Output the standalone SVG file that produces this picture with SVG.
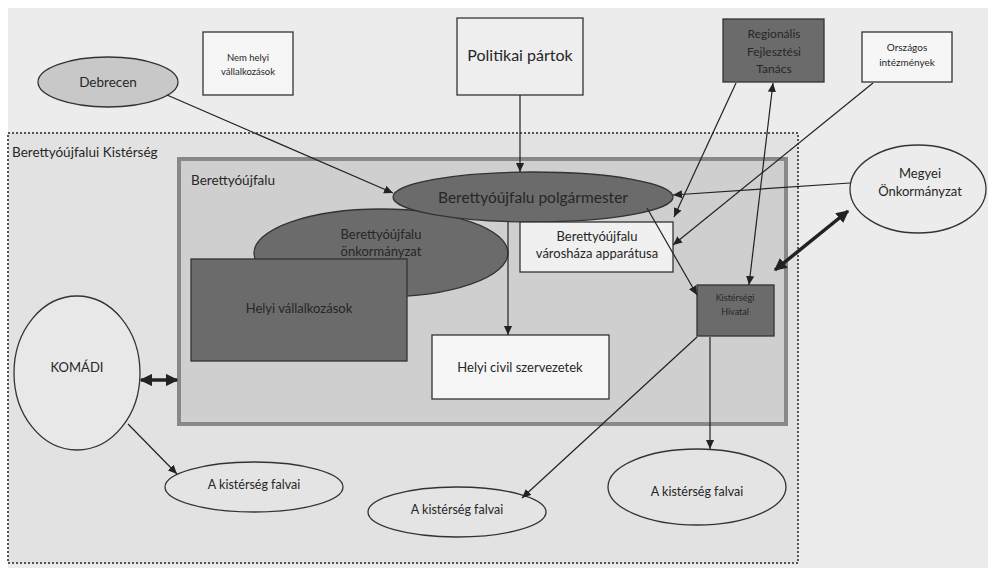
<svg xmlns="http://www.w3.org/2000/svg" width="988" height="568" viewBox="0 0 988 568">
<style>
text{font-family:Lato,"Liberation Sans",Arial,sans-serif;fill:#262626;text-anchor:middle}
.l{text-anchor:start}
.n{stroke:#333;stroke-width:1.3}
.dk{fill:#6b6b6b}
.wt{fill:#f6f6f6}
.c{stroke:#222;stroke-width:1.2;fill:none;marker-end:url(#a)}
.cc{stroke:#222;stroke-width:1.2;fill:none;marker-end:url(#a);marker-start:url(#a)}
.th{stroke:#222;stroke-width:3.5;fill:none;marker-end:url(#t);marker-start:url(#t)}
</style>
<defs>
<marker id="a" viewBox="0 0 10 10" refX="10" refY="5" markerWidth="9" markerHeight="9" markerUnits="userSpaceOnUse" orient="auto-start-reverse"><path d="M0,0.5L10,5L0,9.5z" fill="#222"/></marker>
<marker id="t" viewBox="0 0 10 10" refX="9" refY="5" markerWidth="3.6" markerHeight="3.6" orient="auto-start-reverse"><path d="M0,0L10,5L0,10z" fill="#222"/></marker>
</defs>
<rect x="0" y="0" width="988" height="568" fill="#ffffff"/>
<rect x="8" y="8" width="980" height="560" fill="#ececec"/>
<g id="kisterseg">
<rect x="8" y="133" width="790" height="430" fill="#e2e2e2" stroke="#555" stroke-width="2" stroke-dasharray="2 2"/>
<text class="l" x="12" y="157" font-size="13.5">Berettyóújfalui Kistérség</text>
</g>
<g id="berettyoujfalu">
<rect x="179" y="159" width="607" height="265" fill="#cfcfcf" stroke="#888" stroke-width="4"/>
<text class="l" x="191" y="185" font-size="13.5">Berettyóújfalu</text>
</g>
<g id="debrecen">
<ellipse class="n" cx="108" cy="82" rx="70" ry="25" fill="#c8c8c8"/>
<text x="108" y="87" font-size="13.5">Debrecen</text>
</g>
<g id="nemhelyi">
<rect class="n wt" x="203" y="32" width="90" height="63"/>
<text x="248" y="61" font-size="9.5">Nem helyi</text>
<text x="248" y="75" font-size="9.5">vállalkozások</text>
</g>
<g id="politikai">
<rect class="n" x="457" y="18" width="126" height="77" fill="#eeeeee"/>
<text x="520" y="61" font-size="16">Politikai pártok</text>
</g>
<g id="rft">
<rect class="n dk" x="723" y="19" width="101" height="63"/>
<text x="774" y="38" font-size="12">Regionális</text>
<text x="774" y="56" font-size="12">Fejlesztési</text>
<text x="774" y="73" font-size="12">Tanács</text>
</g>
<g id="orszagos">
<rect class="n wt" x="862" y="32" width="90" height="50"/>
<text x="907" y="51" font-size="10">Országos</text>
<text x="907" y="66" font-size="10">intézmények</text>
</g>
<g id="megyei">
<ellipse class="n" cx="918" cy="189" rx="68" ry="44" fill="#ececec"/>
<text x="920" y="178" font-size="13">Megyei</text>
<text x="920" y="196" font-size="13">Önkormányzat</text>
</g>
<g id="onkormanyzat">
<ellipse class="n dk" cx="381" cy="253" rx="127" ry="44"/>
<text x="381" y="239" font-size="13">Berettyóújfalu</text>
<text x="381" y="256" font-size="13">önkormányzat</text>
</g>
<g id="vallalkozasok">
<rect class="n dk" x="191" y="259" width="216" height="102"/>
<text x="299" y="313" font-size="13">Helyi vállalkozások</text>
</g>
<g id="polgarmester">
<ellipse class="n dk" cx="533" cy="197" rx="140" ry="25"/>
<text x="533" y="202.5" font-size="15.5">Berettyóújfalu polgármester</text>
</g>
<g id="varoshaza">
<rect class="n" x="520" y="222" width="153" height="50" fill="#f0f0f0"/>
<text x="597" y="241" font-size="13">Berettyóújfalu</text>
<text x="597" y="258" font-size="13">városháza apparátusa</text>
</g>
<g id="civil">
<rect class="n wt" x="432" y="335" width="177" height="64"/>
<text x="520" y="372" font-size="13">Helyi civil szervezetek</text>
</g>
<g id="hivatal">
<rect class="n dk" x="697" y="285" width="77" height="51"/>
<text x="735" y="301" font-size="9">Kistérségi</text>
<text x="735" y="315" font-size="9">Hivatal</text>
</g>
<g id="komadi">
<ellipse class="n" cx="77" cy="373" rx="63" ry="77" fill="#e8e8e8"/>
<text x="77" y="372" font-size="13">KOMÁDI</text>
</g>
<g id="falvai1">
<ellipse class="n" cx="254" cy="487" rx="89" ry="25" fill="#e4e4e4"/>
<text x="254" y="489" font-size="12.5">A kistérség falvai</text>
</g>
<g id="falvai2">
<ellipse class="n" cx="457" cy="512" rx="89" ry="25" fill="#e4e4e4"/>
<text x="457" y="514" font-size="12.5">A kistérség falvai</text>
</g>
<g id="falvai3">
<ellipse class="n" cx="697" cy="487" rx="89" ry="38" fill="#e4e4e4"/>
<text x="697" y="496" font-size="12.5">A kistérség falvai</text>
</g>
<g id="connectors">
<line class="c" x1="167" y1="95" x2="393" y2="193"/>
<line class="c" x1="520" y1="95" x2="520" y2="172"/>
<line class="c" x1="850" y1="183" x2="673" y2="195"/>
<line class="c" x1="736" y1="83" x2="674" y2="217"/>
<line class="c" x1="873" y1="83" x2="673" y2="245"/>
<line class="cc" x1="749" y1="285" x2="773" y2="83"/>
<line class="c" x1="647" y1="208" x2="697" y2="295"/>
<line class="c" x1="508" y1="222" x2="508" y2="335"/>
<line class="th" x1="848" y1="211" x2="775" y2="270"/>
<line class="th" x1="141" y1="380" x2="177" y2="380"/>
<line class="c" x1="128" y1="424" x2="177" y2="474"/>
<line class="c" x1="697" y1="337" x2="522" y2="498"/>
<line class="c" x1="710" y1="337" x2="710" y2="449"/>
</g>
</svg>
